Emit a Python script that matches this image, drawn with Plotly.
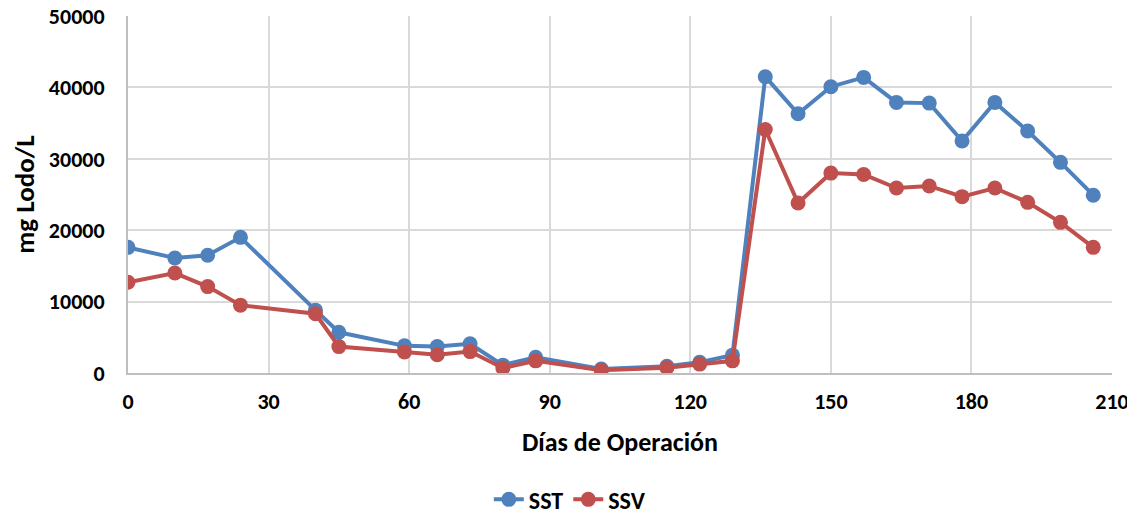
import plotly.graph_objects as go

days = [0, 10, 17, 24, 40, 45, 59, 66, 73, 80, 87, 101, 115, 122, 129,
        136, 143, 150, 157, 164, 171, 178, 185, 192, 199, 206]
sst = [17600, 16100, 16500, 19000, 8800, 5700, 3800, 3700, 4100, 1100, 2200, 550, 950, 1500, 2500,
       41500, 36300, 40100, 41400, 37900, 37800, 32500, 37900, 33900, 29500, 24900]
ssv = [12700, 14000, 12100, 9500, 8300, 3700, 2950, 2550, 3000, 700, 1700, 400, 750, 1250, 1700,
       34100, 23800, 28000, 27800, 25900, 26200, 24700, 25900, 23900, 21100, 17600]

x_ticks = [0, 30, 60, 90, 120, 150, 180, 210]
y_ticks = [0, 10000, 20000, 30000, 40000, 50000]

font_family = "Carlito, Calibri, 'Open Sans', sans-serif"

fig = go.Figure()
fig.add_trace(go.Scatter(x=days, y=sst, name="<b>SST</b>", mode="lines+markers",
                         line=dict(color="#4f81bd", width=4),
                         marker=dict(color="#4f81bd", size=15)))
fig.add_trace(go.Scatter(x=days, y=ssv, name="<b>SSV</b>", mode="lines+markers",
                         line=dict(color="#c0504d", width=4),
                         marker=dict(color="#c0504d", size=15)))

# page body has an 8px margin, so the figure is sized/offset accordingly
fig.update_layout(
    width=1127, height=510,
    margin=dict(l=120, r=23, t=8, b=145, autoexpand=False),
    paper_bgcolor="white", plot_bgcolor="white",
    font=dict(family=font_family, color="black", size=22),
    showlegend=True,
    legend=dict(orientation="h", x=0.449, xanchor="center", y=-0.355, yanchor="middle",
                font=dict(size=24, family=font_family), tracegroupgap=0),
    xaxis=dict(range=[0, 210], tickvals=x_ticks, ticktext=[f"<b>{t}</b>" for t in x_ticks],
               showgrid=True, gridcolor="#d9d9d9", gridwidth=2,
               showline=True, linecolor="#bfbfbf", linewidth=2, zeroline=False,
               tickfont=dict(size=22, family=font_family), ticks="", ticklabelstandoff=8,
               ticklabeloverflow="allow",
               title=dict(text="<b>Días de Operación</b>", font=dict(size=26), standoff=18)),
    yaxis=dict(range=[0, 50000], tickvals=y_ticks, ticktext=[f"<b>{t}</b>" for t in y_ticks],
               showgrid=True, gridcolor="#d9d9d9", gridwidth=2,
               showline=True, linecolor="#bfbfbf", linewidth=2, zeroline=False,
               tickfont=dict(size=22, family=font_family), ticks="", ticklabelstandoff=17,
               ticklabeloverflow="allow",
               title=dict(text="<b>mg Lodo/L</b>", font=dict(size=27), standoff=10)),
)

fig.write_html("out.html")
